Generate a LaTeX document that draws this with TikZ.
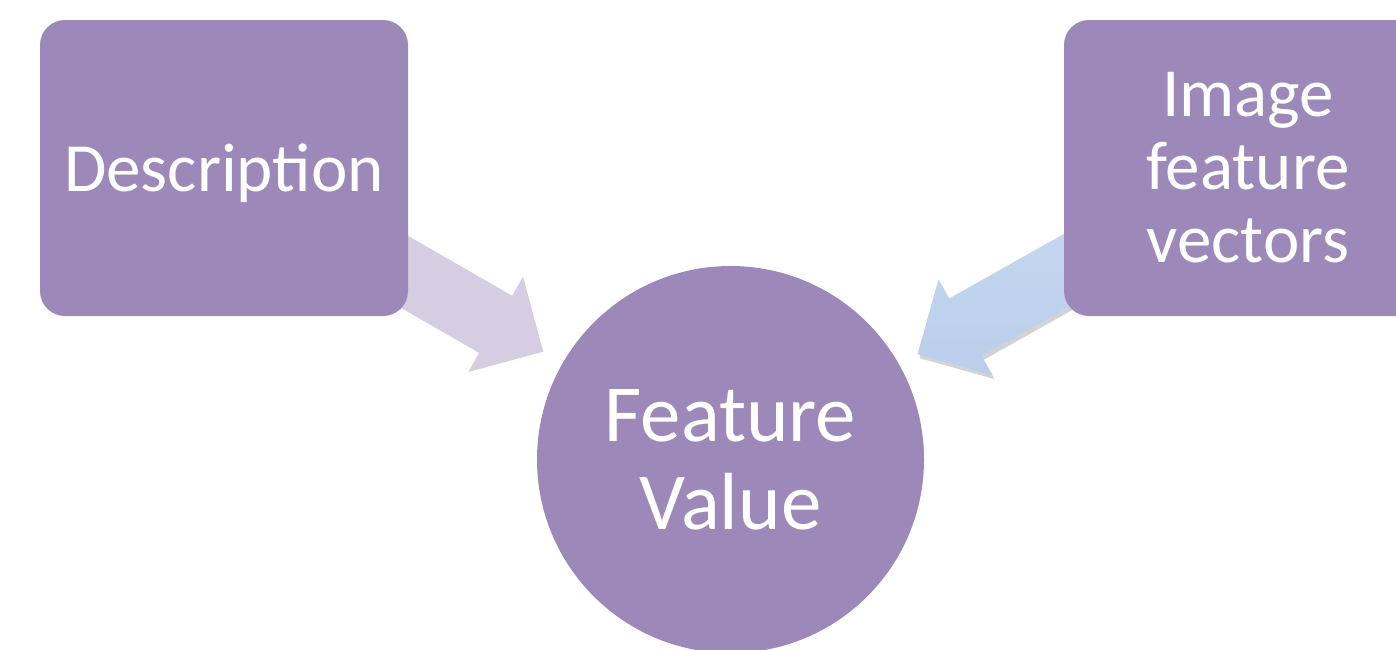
\documentclass[tikz,border=0pt]{standalone}
\usepackage{fontspec}
\setmainfont{Carlito}
\usetikzlibrary{calc,shadows,backgrounds}
\definecolor{boxc}{RGB}{156,136,185}
\definecolor{larr}{RGB}{214,205,227}
\definecolor{rarrA}{RGB}{200,219,242}
\definecolor{rarrB}{RGB}{186,206,235}
\begin{document}
\begin{tikzpicture}[x=1pt,y=-1pt,
  boxst/.style={draw=none, fill=boxc, rounded corners=25pt, minimum width=368pt,
    minimum height=296pt, inner sep=0pt, text=white, align=center,
    font=\fontsize{69}{73}\selectfont},
  circst/.style={circle, draw=none, fill=boxc, minimum size=387pt, inner sep=0pt,
    text=white, align=center, font=\fontsize{81}{88}\selectfont},
  leftarr/.style={fill=larr},
  rightarr/.style={top color=rarrA, bottom color=rarrB,
    drop shadow={opacity=0.35, shadow xshift=2pt, shadow yshift=-4pt}}]
\useasboundingbox (0,0) rectangle (1396,649);
\node[circst] (fv) at (730.5,459.5) {Feature\\Value};
\node[boxst, text depth=0pt] (desc) at (224,168) {Description};
\node[boxst] (img) at (1248,168) {Image\\feature\\vectors};
\begin{scope}[on background layer]
  % left block arrow: Description -> Feature Value
  \coordinate (la0) at ($(desc.center)!60pt!(fv.center)$);
  \coordinate (la1) at ($(desc.center)!313.4pt!(fv.center)$);
  \coordinate (la2) at ($(desc.center)!368.3pt!(fv.center)$);
  \path[leftarr] ($(la0)!33pt!90:(fv.center)$) -- ($(la1)!33pt!90:(fv.center)$)
    -- ($(la1)!55pt!90:(fv.center)$) -- (la2)
    -- ($(la1)!55pt!-90:(fv.center)$) -- ($(la1)!33pt!-90:(fv.center)$)
    -- ($(la0)!33pt!-90:(fv.center)$) -- cycle;
  % right block arrow: Image feature vectors -> Feature Value
  \coordinate (ra0) at ($(img.center)!60pt!(fv.center)$);
  \coordinate (ra1) at ($(img.center)!324.3pt!(fv.center)$);
  \coordinate (ra2) at ($(img.center)!379.3pt!(fv.center)$);
  \path[rightarr] ($(ra0)!33pt!90:(fv.center)$) -- ($(ra1)!33pt!90:(fv.center)$)
    -- ($(ra1)!55pt!90:(fv.center)$) -- (ra2)
    -- ($(ra1)!55pt!-90:(fv.center)$) -- ($(ra1)!33pt!-90:(fv.center)$)
    -- ($(ra0)!33pt!-90:(fv.center)$) -- cycle;
\end{scope}
\end{tikzpicture}
\end{document}
